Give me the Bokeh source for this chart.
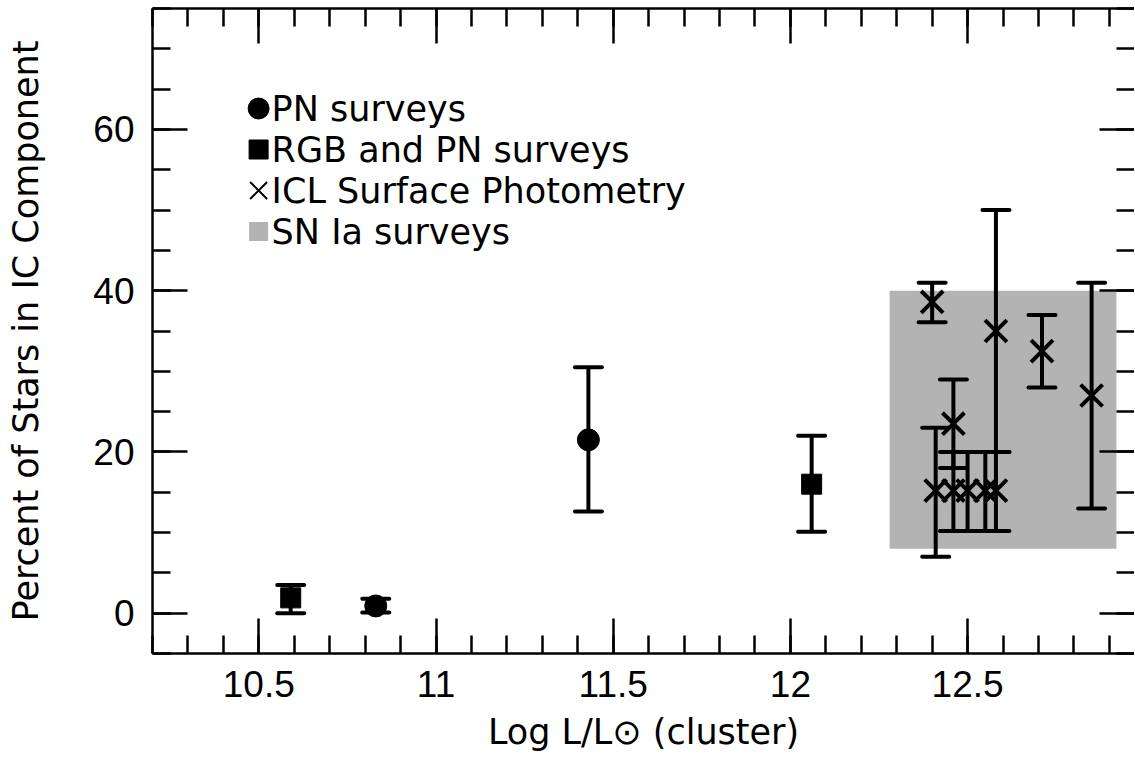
from bokeh.plotting import figure
from bokeh.models import (Range1d, LinearAxis, SingleIntervalTicker,
                          NumeralTickFormatter, CustomJSTickFormatter)
from bokeh.embed import file_html
from bokeh.resources import INLINE
from bokeh.core.properties import value

# ---------------- data ----------------
pn_x = [10.83, 11.43]
pn_y = [0.9, 21.5]
pn_lo = [0.1, 12.6]
pn_hi = [1.8, 30.5]

rgb_x = [10.59, 12.06]
rgb_y = [1.9, 16.0]
rgb_lo = [0.0, 10.1]
rgb_hi = [3.5, 22.0]

icl_x = [12.40, 12.58, 12.71, 12.85, 12.46, 12.41, 12.46, 12.50, 12.55, 12.58]
icl_y = [38.6, 35.0, 32.5, 27.0, 23.5, 15.2, 15.2, 15.2, 15.2, 15.2]
icl_lo = [36.1, 20.0, 28.0, 13.0, 18.0, 7.0, 10.2, 10.2, 10.2, 10.2]
icl_hi = [41.0, 50.0, 37.0, 41.0, 29.0, 23.0, 20.0, 20.0, 20.0, 20.0]

sn_left = [12.28]
sn_right = [12.92]
sn_bottom = [8.0]
sn_top = [40.0]

legend_labels = ["PN surveys", "RGB and PN surveys",
                 "ICL Surface Photometry", "SN Ia surveys"]

x_label = "Log L/L\u2299 (cluster)"
y_label = "Percent of Stars in IC Component"

# ---------------- layout constants ----------------
X0, X1 = 10.2, 12.971
Y0, Y1 = -5.0, 75.0
TICK_FONT = "Liberation Sans"
TEXT_FONT = "DejaVu Sans"
TICK_FS = "37px"
TEXT_FS = "35px"
GRAY = "#b3b3b3"
BLACK = "black"

FRAME_W = 981
FRAME_H = 645

p = figure(width=1134, height=764, output_backend="svg", toolbar_location=None,
           x_range=Range1d(X0, X1), y_range=Range1d(Y0, Y1),
           x_axis_location=None, y_axis_location=None,
           min_border_left=152, min_border_right=0,
           min_border_top=8, min_border_bottom=111)
p.outline_line_color = None
p.grid.visible = False
p.background_fill_color = "white"
p.border_fill_color = "white"


def style_axis(ax, ticker):
    ax.ticker = ticker
    ax.axis_line_width = 2.5
    ax.axis_line_color = BLACK
    ax.major_tick_in = 35
    ax.major_tick_out = 0
    ax.minor_tick_in = 18
    ax.minor_tick_out = 0
    ax.major_tick_line_width = 2.5
    ax.minor_tick_line_width = 2.5
    ax.major_tick_line_color = BLACK
    ax.minor_tick_line_color = BLACK
    ax.major_label_text_font = TICK_FONT
    ax.major_label_text_font_size = TICK_FS
    ax.major_label_text_color = BLACK
    ax.axis_label_text_font = TEXT_FONT
    ax.axis_label_text_font_size = TEXT_FS
    ax.axis_label_text_font_style = "normal"
    ax.axis_label_text_color = BLACK


def xt():
    return SingleIntervalTicker(interval=0.5, num_minor_ticks=5)


def yt():
    return SingleIntervalTicker(interval=20, num_minor_ticks=4)


blank = CustomJSTickFormatter(code="return ''")

bottom = LinearAxis(axis_label=x_label)
style_axis(bottom, xt())
bottom.formatter = NumeralTickFormatter(format="0.[0]")
bottom.major_label_standoff = 17
bottom.axis_label_standoff = 12
p.add_layout(bottom, "below")

left = LinearAxis(axis_label=y_label)
style_axis(left, yt())
left.formatter = NumeralTickFormatter(format="0")
left.major_label_standoff = 18
left.axis_label_standoff = 44
p.add_layout(left, "left")

top = LinearAxis()
style_axis(top, xt())
top.formatter = blank
top.major_label_standoff = 0
top.major_label_text_font_size = "1px"
p.add_layout(top, "above")

right = LinearAxis()
style_axis(right, yt())
right.formatter = blank
right.major_label_standoff = 0
right.major_label_text_font_size = "1px"
right.axis_line_color = None
p.add_layout(right, "right")

# ---------------- glyphs ----------------
p.quad(left=sn_left, right=sn_right, bottom=sn_bottom, top=sn_top,
       fill_color=GRAY, line_color=None)


def errbars(x, lo, hi):
    p.segment(x0=x, y0=lo, x1=x, y1=hi, line_width=4, line_color=BLACK)
    p.scatter(x=x, y=lo, marker="dash", size=27, line_width=4,
              line_color=BLACK, line_cap="round")
    p.scatter(x=x, y=hi, marker="dash", size=27, line_width=4,
              line_color=BLACK, line_cap="round")


errbars(pn_x, pn_lo, pn_hi)
errbars(rgb_x, rgb_lo, rgb_hi)
errbars(icl_x, icl_lo, icl_hi)

p.scatter(x=pn_x, y=pn_y, marker="circle", size=22,
          fill_color=BLACK, line_color=BLACK)
p.scatter(x=rgb_x, y=rgb_y, marker="square", size=20,
          fill_color=BLACK, line_color=BLACK)
p.scatter(x=icl_x, y=icl_y, marker="x", size=31, line_width=4,
          line_color=BLACK)

# ---------------- legend (drawn by hand) ----------------
sx = (X1 - X0) / FRAME_W
sy = (Y1 - Y0) / FRAME_H
leg_mx = X0 + 106 * sx          # marker column, px from frame left
leg_tx = X0 + 119 * sx          # text column
row_px = [100, 141, 182, 223]   # px from frame top
leg_y = [Y1 - r * sy for r in row_px]

p.scatter(x=[leg_mx], y=[leg_y[0]], marker="circle", size=21,
          fill_color=BLACK, line_color=BLACK)
p.scatter(x=[leg_mx], y=[leg_y[1]], marker="square", size=19,
          fill_color=BLACK, line_color=BLACK)
p.scatter(x=[leg_mx], y=[leg_y[2]], marker="x", size=24, line_width=2,
          line_color=BLACK)
p.scatter(x=[leg_mx], y=[leg_y[3]], marker="square", size=19,
          fill_color=GRAY, line_color=None)
p.text(x=[leg_tx] * 4, y=leg_y, text=legend_labels,
       text_font=value(TEXT_FONT), text_font_size=TEXT_FS, text_color=BLACK,
       text_baseline="middle", text_align="left")

open("out.html", "w").write(file_html(p, INLINE))
